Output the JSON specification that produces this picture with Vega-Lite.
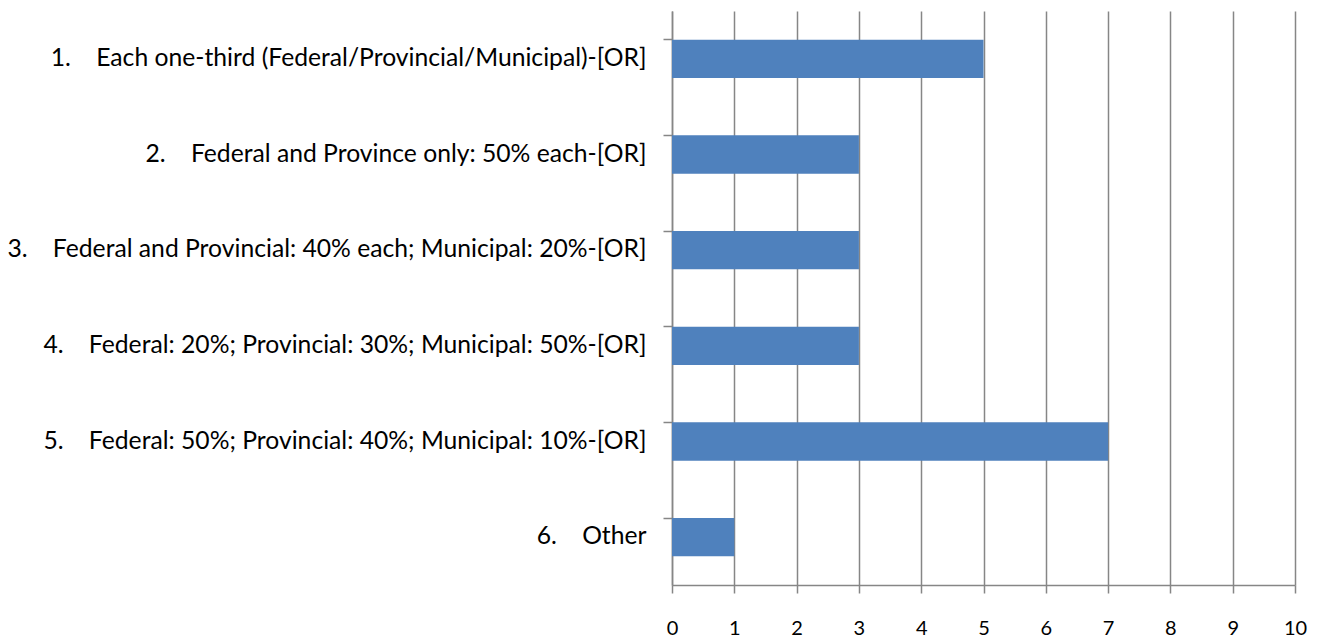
{
  "$schema": "https://vega.github.io/schema/vega-lite/v6.json",
  "autosize": "none",
  "width": 623,
  "height": 574,
  "padding": {"left": 672, "top": 11, "right": 31, "bottom": 55},
  "background": "white",
  "config": {"view": {"stroke": null}},
  "data": {"values": [
    {"option": "1.\u00a0\u00a0\u00a0\u00a0Each one-third (Federal/Provincial/Municipal)-[OR]", "count": 5},
    {"option": "2.\u00a0\u00a0\u00a0\u00a0Federal and Province only: 50% each-[OR]", "count": 3},
    {"option": "3.\u00a0\u00a0\u00a0\u00a0Federal and Provincial: 40% each; Municipal: 20%-[OR]", "count": 3},
    {"option": "4.\u00a0\u00a0\u00a0\u00a0Federal: 20%; Provincial: 30%; Municipal: 50%-[OR]", "count": 3},
    {"option": "5.\u00a0\u00a0\u00a0\u00a0Federal: 50%; Provincial: 40%; Municipal: 10%-[OR]", "count": 7},
    {"option": "6.\u00a0\u00a0\u00a0\u00a0Other", "count": 1}
  ]},
  "mark": {"type": "bar", "color": "#4F81BD"},
  "encoding": {
    "y": {
      "field": "option", "type": "nominal", "sort": null, "title": null,
      "scale": {"paddingInner": 0.6, "paddingOuter": 0.3},
      "axis": {
        "bandPosition": 0, "tickSize": 9, "labelPadding": 17,
        "labelFont": "Lato", "labelFontSize": 24.7, "labelColor": "#000000",
        "labelLimit": 1000, "domainColor": "#868686", "tickColor": "#868686",
        "domainWidth": 1.5, "tickWidth": 1.5, "grid": false
      }
    },
    "x": {
      "field": "count", "type": "quantitative", "title": null,
      "scale": {"domain": [0, 10], "nice": false},
      "axis": {
        "values": [0,1,2,3,4,5,6,7,8,9,10], "format": "d",
        "labelFlush": false, "labelOverlap": false,
        "tickSize": 8, "labelPadding": 25,
        "labelFont": "Lato", "labelFontSize": 20, "labelColor": "#000000",
        "domainColor": "#868686", "tickColor": "#868686", "gridColor": "#868686",
        "domainWidth": 1.5, "tickWidth": 1.5, "gridWidth": 1.5, "grid": true
      }
    }
  }
}
